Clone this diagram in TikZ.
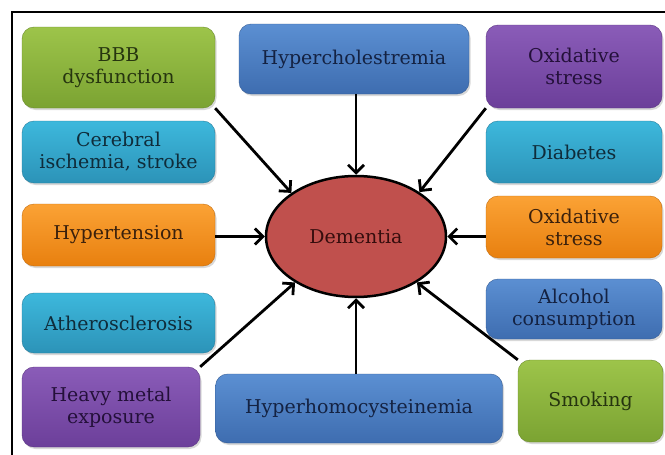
\documentclass[tikz,border=0pt]{standalone}
\usepackage{fontspec}
\setmainfont{DejaVu Serif}
\usetikzlibrary{arrows.meta,shapes.geometric,shadows}
\definecolor{gtop}{HTML}{9DC44A}\definecolor{gbot}{HTML}{7BA332}\definecolor{gtxt}{HTML}{26350F}
\definecolor{btop}{HTML}{5B8FD2}\definecolor{bbot}{HTML}{3E6DB0}\definecolor{btxt}{HTML}{142242}
\definecolor{ptop}{HTML}{8A5CB8}\definecolor{pbot}{HTML}{6C3F9A}\definecolor{ptxt}{HTML}{24103A}
\definecolor{ctop}{HTML}{3DB8DC}\definecolor{cbot}{HTML}{2C93B8}\definecolor{ctxt}{HTML}{0F2C3A}
\definecolor{otop}{HTML}{FBA235}\definecolor{obot}{HTML}{E8800F}\definecolor{otxt}{HTML}{3A200C}
\definecolor{dfill}{HTML}{C0504D}\definecolor{dtxt}{HTML}{350D0D}
\begin{document}
\begin{tikzpicture}[x=1pt,y=-1pt,
  box/.style={rectangle, rounded corners=12pt, inner sep=2pt, align=center,
    font=\fontsize{19}{22}\selectfont,
    drop shadow={shadow xshift=1.5pt,shadow yshift=-2pt,opacity=0.3}},
  greenbox/.style={box, top color=gtop, bottom color=gbot, draw=gbot!85!black, text=gtxt},
  bluebox/.style={box, top color=btop, bottom color=bbot, draw=bbot!85!black, text=btxt},
  purplebox/.style={box, top color=ptop, bottom color=pbot, draw=pbot!85!black, text=ptxt},
  cyanbox/.style={box, top color=ctop, bottom color=cbot, draw=cbot!85!black, text=ctxt},
  orangebox/.style={box, top color=otop, bottom color=obot, draw=obot!85!black, text=otxt},
  arr/.style={line width=2.8pt, -{Straight Barb[length=8pt,width=16pt]}}
]
\useasboundingbox (0,0) rectangle (665,455);
\fill[white] (0,0) rectangle (665,455);
\draw[line width=2pt] (12,455) -- (12,12) -- (665,12);

\node[greenbox, minimum width=193pt, minimum height=81pt] (bbb) at (118.5,67.5) {BBB\\dysfunction};
\node[bluebox, minimum width=230pt, minimum height=70pt] (hyperc) at (354,59) {Hypercholestremia};
\node[purplebox, minimum width=176pt, minimum height=83pt] (oxp) at (574,66.5) {Oxidative\\stress};
\node[cyanbox, minimum width=193pt, minimum height=62pt] (cer) at (118.5,152) {Cerebral\\ischemia, stroke};
\node[cyanbox, minimum width=176pt, minimum height=62pt] (dia) at (574,152) {Diabetes};
\node[orangebox, minimum width=193pt, minimum height=62pt] (hyt) at (118.5,235) {Hypertension};
\node[orangebox, minimum width=176pt, minimum height=62pt] (oxo) at (574,227) {Oxidative\\stress};
\node[cyanbox, minimum width=193pt, minimum height=60pt] (ath) at (118.5,323) {Atherosclerosis};
\node[bluebox, minimum width=176pt, minimum height=60pt] (alc) at (574,309) {Alcohol\\consumption};
\node[purplebox, minimum width=178pt, minimum height=80pt] (heavy) at (111,407) {Heavy metal\\exposure};
\node[bluebox, minimum width=287pt, minimum height=69pt] (hh) at (359,408.5) {Hyperhomocysteinemia};
\node[greenbox, minimum width=145pt, minimum height=82pt] (smk) at (590.5,401) {Smoking};

\node[ellipse, draw=black, line width=2.5pt, fill=dfill, minimum width=180pt, minimum height=121pt,
  inner sep=0pt, text=dtxt, font=\fontsize{19}{22}\selectfont] (dem) at (356,236.5) {Dementia};

\draw[arr] (bbb.south east) -- (dem.146);
\draw[arr] (hyperc.south -| dem.north) -- (dem.north);
\draw[arr] (oxp.south west) -- (dem.35);
\draw[arr] (hyt.east |- dem.west) -- (dem.west);
\draw[arr] (oxo.west |- dem.east) -- (dem.east);
\draw[arr] (heavy.north east) -- (dem.217);
\draw[arr] (hh.north -| dem.south) -- (dem.south);
\draw[arr] (smk.north west) -- (dem.323);
\end{tikzpicture}
\end{document}
